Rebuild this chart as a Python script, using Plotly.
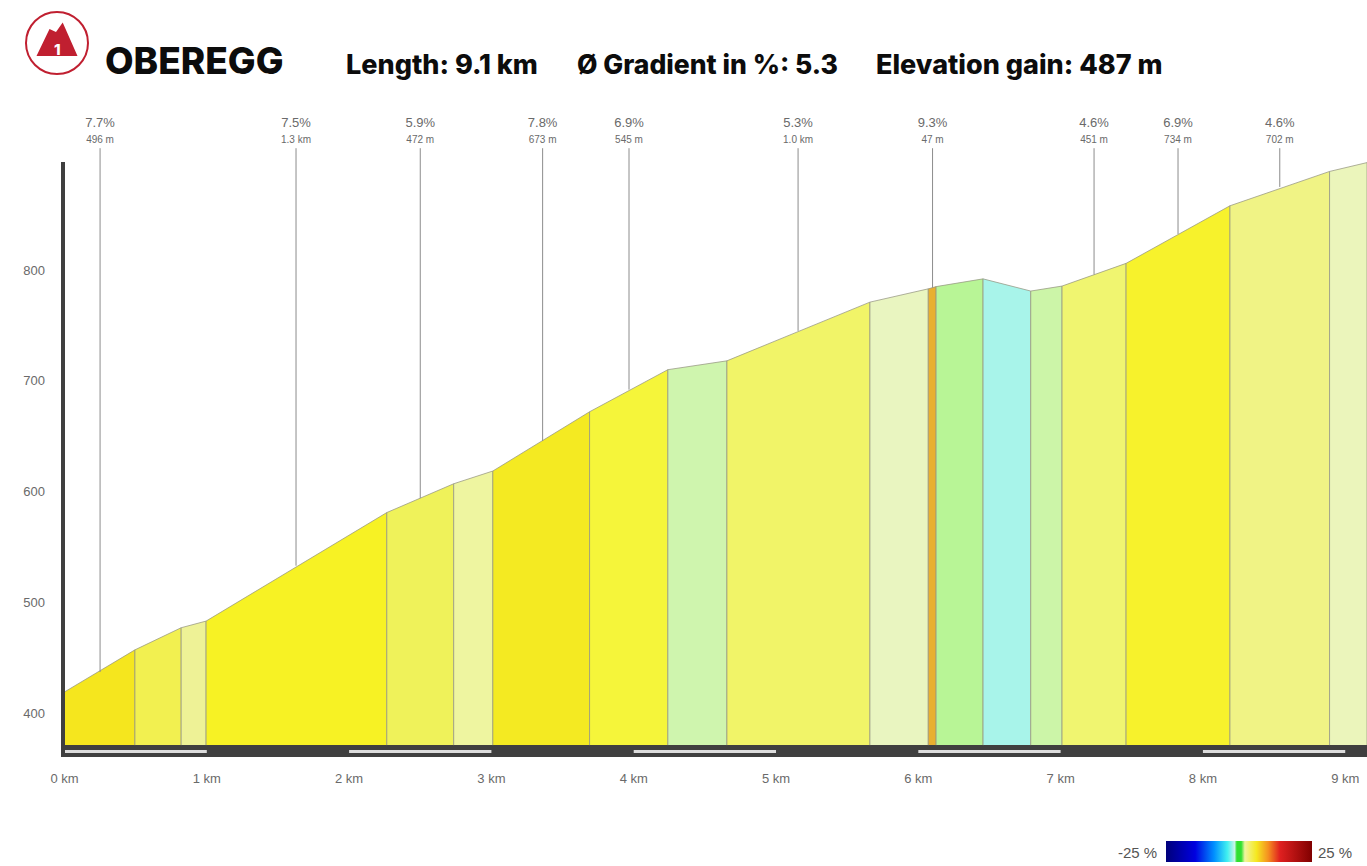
import plotly.graph_objects as go

# --- data ---
km = [0, 0.495, 0.82, 0.995, 2.265, 2.735, 3.01, 3.69, 4.24, 4.655, 5.66, 6.07, 6.125, 6.455, 6.79, 7.01, 7.46, 8.19, 8.89, 9.153]
elev = [419, 457, 477, 483, 581, 607, 618.5, 672, 710, 718, 771, 783, 785, 792, 781, 785.5, 806, 858, 889, 897]
seg_colors = ["#F5E61E", "#F2F050", "#EEF296", "#F7F224", "#EFF25A", "#EEF5A0", "#F4EA22", "#F5F53A",
              "#CFF5AE", "#F1F468", "#E9F5C0", "#E8B030", "#B8F596", "#A8F4EA", "#CCF5A8", "#F0F570",
              "#F7F22C", "#F0F385", "#EBF5BB"]
leader_km = [0.25, 1.627, 2.5, 3.36, 3.967, 5.155, 6.1, 7.235, 7.825, 8.54]
leader_elev = [437, 533, 594, 645.6, 692, 745, 784, 796, 832.5, 875]
leader_pct = ["7.7%", "7.5%", "5.9%", "7.8%", "6.9%", "5.3%", "9.3%", "4.6%", "6.9%", "4.6%"]
leader_len = ["496 m", "1.3 km", "472 m", "673 m", "545 m", "1.0 km", "47 m", "451 m", "734 m", "702 m"]
y_ticks = [400, 500, 600, 700, 800]
x_ticks = list(range(10))
x_labels = [f"{k} km" for k in x_ticks]
title = "OBEREGG"
stats = ["Length: 9.1 km", "Ø Gradient in %: 5.3", "Elevation gain: 487 m"]

BASE = 371
Y_MIN, Y_MAX = 360.27, 949
X_MIN, X_MAX = -0.0105, 9.153
LEADER_TOP = 910
PCT_Y = 931.8
LEN_Y = 917.4
GRAY = "#6a6a6a"
RED = "#C01F30"

L, R, T, B = 63, 1367, 105, 757
def px(x): return (x - L) / (R - L)
def py(y): return (B - y) / (B - T)

fig = go.Figure()
for i, c in enumerate(seg_colors):
    fig.add_trace(go.Scatter(
        x=[km[i], km[i], km[i + 1], km[i + 1]], y=[BASE, elev[i], elev[i + 1], BASE],
        mode="lines", fill="toself", fillcolor=c,
        line=dict(color="rgba(150,150,130,0.75)", width=1), hoverinfo="skip", showlegend=False))

lx, ly = [], []
for k, e in zip(leader_km, leader_elev):
    lx += [k, k, None]
    ly += [e, LEADER_TOP, None]
fig.add_trace(go.Scatter(x=lx, y=ly, mode="lines", line=dict(color="#8c8c8c", width=1),
                         hoverinfo="skip", showlegend=False))
fig.add_trace(go.Scatter(x=leader_km, y=[PCT_Y] * len(leader_km), text=leader_pct, mode="text",
                         textfont=dict(family="Liberation Sans", size=13, color=GRAY),
                         hoverinfo="skip", showlegend=False))
fig.add_trace(go.Scatter(x=leader_km, y=[LEN_Y] * len(leader_km), text=leader_len, mode="text",
                         textfont=dict(family="Liberation Sans", size=10, color=GRAY),
                         hoverinfo="skip", showlegend=False))

sx, sy = [], []
for k in (0, 2, 4, 6, 8):
    sx += [k, k + 1, None]
    sy += [365.2, 365.2, None]
fig.add_trace(go.Scatter(x=sx, y=sy, mode="lines", line=dict(color="#dcdcdc", width=3),
                         hoverinfo="skip", showlegend=False))

# colour legend
fig.add_trace(go.Scatter(
    x=[-5, -5], y=[0, 0], mode="markers", showlegend=False, hoverinfo="skip",
    marker=dict(color=[-25, 25], cmin=-25, cmax=25, showscale=True,
                colorscale=[[0, "#00007a"], [0.2, "#0000e0"], [0.33, "#0090ff"], [0.42, "#40f0f0"],
                            [0.47, "#c8f5e8"], [0.485, "#30e030"], [0.515, "#30e030"], [0.54, "#f0f5a0"],
                            [0.62, "#f5e820"], [0.7, "#f59020"], [0.78, "#e02020"], [1, "#800000"]],
                colorbar=dict(orientation="h", xref="container", yref="container",
                              x=1222 / 1367, xanchor="left", y=1 - 862 / 866, yanchor="bottom",
                              lenmode="pixels", len=146, thicknessmode="pixels", thickness=21,
                              xpad=0, ypad=0, outlinewidth=0, showticklabels=False, ticks=""))))

shapes = [
    dict(type="rect", layer="below", xref="x", yref="y", x0=X_MIN, x1=X_MAX, y0=Y_MIN, y1=BASE,
         fillcolor="#3f3f3f", line_width=0),
    dict(type="rect", xref="paper", yref="paper", x0=px(61), x1=px(65), y0=py(757), y1=py(162),
         fillcolor="#3f3f3f", line_width=0),
    dict(type="circle", xref="paper", yref="paper", x0=px(26), x1=px(88), y0=py(74), y1=py(12),
         line=dict(color=RED, width=2), fillcolor="white"),
    dict(type="path", xref="paper", yref="paper", fillcolor=RED, line_width=0,
         path="M {} {} L {} {} L {} {} L {} {} L {} {} Z".format(
             px(36.5), py(56), px(49.5), py(29), px(56), py(32), px(62.7), py(22.5), px(77.5), py(56))),
]

def note(x, y, text, size, color="#0c0c0c", family="Inter", anchor="left"):
    return dict(xref="paper", yref="paper", x=px(x), y=py(y), text=text, showarrow=False,
                xanchor=anchor, yanchor="middle", font=dict(family=family, size=size, color=color, weight=800))

annotations = [
    note(103, 61, title, 37),
    note(344, 64, stats[0], 27),
    note(575, 64, stats[1], 26.5),
    note(874, 64, stats[2], 27),
    note(57, 49, "1", 15, color="white", anchor="center"),
    dict(xref="paper", yref="paper", x=px(1159), y=py(852), text="-25 %", showarrow=False, xanchor="right",
         yanchor="middle", font=dict(family="Liberation Sans", size=15, color="#555")),
    dict(xref="paper", yref="paper", x=px(1316), y=py(852), text="25 %", showarrow=False, xanchor="left",
         yanchor="middle", font=dict(family="Liberation Sans", size=15, color="#555")),
]

fig.update_layout(
    width=1367, height=866, paper_bgcolor="white", plot_bgcolor="white",
    margin=dict(l=L, r=1367 - R, t=T, b=866 - B, autoexpand=False),
    shapes=shapes, annotations=annotations, showlegend=False,
    xaxis=dict(range=[X_MIN, X_MAX], tickvals=x_ticks, ticktext=x_labels, showgrid=False, zeroline=False,
               ticks="", showline=False, ticklabelstandoff=12,
               tickfont=dict(family="Liberation Sans", size=13, color=GRAY)),
    yaxis=dict(range=[Y_MIN, Y_MAX], tickvals=y_ticks, showgrid=False, zeroline=False,
               ticks="", showline=False, ticklabelstandoff=17,
               tickfont=dict(family="Liberation Sans", size=13, color=GRAY)),
)

fig.write_html("out.html", config=dict(displayModeBar=False), post_script="document.body.style.margin='0';")
